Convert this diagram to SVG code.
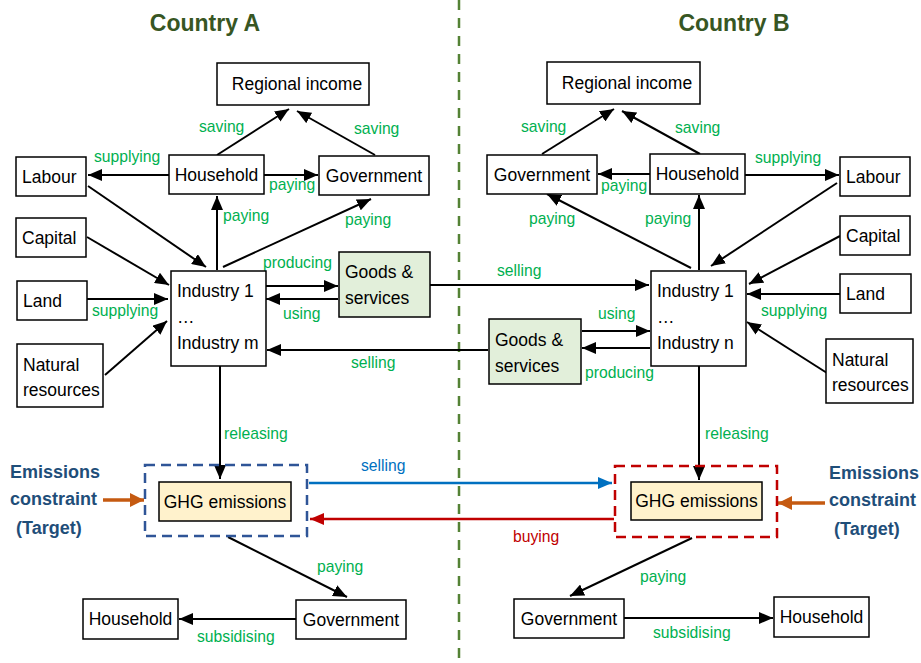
<svg xmlns="http://www.w3.org/2000/svg" width="921" height="663" viewBox="0 0 921 663">
<defs>
<style>
.box{fill:#fff;stroke:#000;stroke-width:1.5}
.goods{fill:#e2efda;stroke:#000;stroke-width:1.5}
.ghg{fill:#fff2cc;stroke:#000;stroke-width:1.5}
.t{font-family:"Liberation Sans",Arial,sans-serif;font-size:17.5px;fill:#000}
.tc{text-anchor:middle}
.lbl{font-family:"Liberation Sans",Arial,sans-serif;font-size:15.7px;fill:#00b050}
.title{font-family:"Liberation Sans",Arial,sans-serif;font-size:23px;font-weight:bold;fill:#375623;text-anchor:middle}
.ec{font-family:"Liberation Sans",Arial,sans-serif;font-size:18px;font-weight:bold;fill:#1f4e79}
.c{stroke:#000;stroke-width:2;fill:none;marker-end:url(#ah)}
</style>
<marker id="ah" markerUnits="userSpaceOnUse" markerWidth="14" markerHeight="12" refX="14" refY="6" orient="auto"><path d="M0,0 L14,6 L0,12 z" fill="#000"/></marker>
<marker id="ahb" markerUnits="userSpaceOnUse" markerWidth="14" markerHeight="12" refX="14" refY="6" orient="auto"><path d="M0,0 L14,6 L0,12 z" fill="#0070c0"/></marker>
<marker id="ahr" markerUnits="userSpaceOnUse" markerWidth="14" markerHeight="12" refX="14" refY="6" orient="auto"><path d="M0,0 L14,6 L0,12 z" fill="#c00000"/></marker>
<marker id="aho" markerUnits="userSpaceOnUse" markerWidth="14" markerHeight="14" refX="14" refY="7" orient="auto"><path d="M0,0 L14,7 L0,14 z" fill="#c55a11"/></marker>
</defs>
<rect width="921" height="663" fill="#fff"/>
<line x1="459" y1="0" x2="459" y2="663" stroke="#548235" stroke-width="2.5" stroke-dasharray="10,8"/>
<text class="title" x="205" y="31">Country A</text>
<text class="title" x="734" y="31">Country B</text>

<g id="connectors">
<!-- Country A -->
<line class="c" x1="217" y1="155" x2="289" y2="109"/>
<line class="c" x1="375" y1="155" x2="297" y2="111"/>
<line class="c" x1="169" y1="175" x2="88" y2="175"/>
<line class="c" x1="264" y1="175" x2="318" y2="175"/>
<line class="c" x1="217" y1="270" x2="217" y2="196"/>
<line class="c" x1="223" y1="267" x2="371" y2="199"/>
<line class="c" x1="88" y1="186" x2="206" y2="267"/>
<line class="c" x1="87" y1="237" x2="169" y2="285"/>
<line class="c" x1="87" y1="299" x2="168" y2="299"/>
<line class="c" x1="105" y1="375" x2="167" y2="321"/>
<line class="c" x1="266" y1="286" x2="338" y2="286"/>
<line class="c" x1="338" y1="299" x2="266" y2="299"/>
<line class="c" x1="430" y1="285" x2="649" y2="285"/>
<line class="c" x1="488" y1="350" x2="267" y2="350"/>
<line class="c" x1="220" y1="366" x2="220" y2="479"/>
<line class="c" x1="228" y1="537" x2="347" y2="597"/>
<line class="c" x1="296" y1="619" x2="179" y2="619"/>
<!-- trade -->
<line x1="309" y1="483" x2="612" y2="483" stroke="#0070c0" stroke-width="2.5" marker-end="url(#ahb)"/>
<line x1="614" y1="519" x2="310" y2="519" stroke="#c00000" stroke-width="2.5" marker-end="url(#ahr)"/>
<line x1="103" y1="500" x2="144" y2="500" stroke="#c55a11" stroke-width="3.5" marker-end="url(#aho)"/>
<line x1="825" y1="503" x2="778" y2="503" stroke="#c55a11" stroke-width="3.5" marker-end="url(#aho)"/>
<!-- Country B -->
<line class="c" x1="542" y1="154" x2="614" y2="109"/>
<line class="c" x1="700" y1="154" x2="622" y2="111"/>
<line class="c" x1="650" y1="174" x2="598" y2="174"/>
<line class="c" x1="745" y1="175" x2="839" y2="175"/>
<line class="c" x1="691" y1="268" x2="547" y2="194"/>
<line class="c" x1="699" y1="270" x2="699" y2="195"/>
<line class="c" x1="837" y1="183" x2="711" y2="266"/>
<line class="c" x1="840" y1="236" x2="749" y2="284"/>
<line class="c" x1="840" y1="294" x2="747" y2="294"/>
<line class="c" x1="827" y1="373" x2="747" y2="322"/>
<line class="c" x1="582" y1="331" x2="650" y2="331"/>
<line class="c" x1="650" y1="348" x2="582" y2="348"/>
<line class="c" x1="699" y1="366" x2="699" y2="480"/>
<line class="c" x1="692" y1="538" x2="570" y2="596"/>
<line class="c" x1="624" y1="618" x2="773" y2="618"/>
</g>

<g id="labels">
<text class="lbl" x="199" y="132">saving</text>
<text class="lbl" x="354" y="134">saving</text>
<text class="lbl" x="94" y="162">supplying</text>
<text class="lbl" x="269" y="190">paying</text>
<text class="lbl" x="223" y="221">paying</text>
<text class="lbl" x="345" y="225">paying</text>
<text class="lbl" x="263" y="268">producing</text>
<text class="lbl" x="92" y="316">supplying</text>
<text class="lbl" x="283" y="319">using</text>
<text class="lbl" x="351" y="368">selling</text>
<text class="lbl" x="497" y="276">selling</text>
<text class="lbl" x="224" y="439">releasing</text>
<text class="lbl" x="361" y="471" style="fill:#0070c0">selling</text>
<text class="lbl" x="317" y="572">paying</text>
<text class="lbl" x="197" y="642">subsidising</text>
<text class="lbl" x="521" y="132">saving</text>
<text class="lbl" x="675" y="133">saving</text>
<text class="lbl" x="755" y="163">supplying</text>
<text class="lbl" x="601" y="191">paying</text>
<text class="lbl" x="529" y="224">paying</text>
<text class="lbl" x="645" y="224">paying</text>
<text class="lbl" x="598" y="319">using</text>
<text class="lbl" x="761" y="316">supplying</text>
<text class="lbl" x="585" y="378">producing</text>
<text class="lbl" x="705" y="439">releasing</text>
<text class="lbl" x="513" y="542" style="fill:#c00000">buying</text>
<text class="lbl" x="640" y="582">paying</text>
<text class="lbl" x="653" y="638">subsidising</text>
</g>

<g id="a-regional-income"><rect class="box" x="217" y="63" width="152" height="42"/><text class="t tc" x="297" y="90">Regional income</text></g>
<g id="a-labour"><rect class="box" x="16" y="157" width="70" height="39"/><text class="t" x="22" y="183">Labour</text></g>
<g id="a-household"><rect class="box" x="169" y="155" width="95" height="39"/><text class="t tc" x="216.5" y="181">Household</text></g>
<g id="a-government"><rect class="box" x="319" y="156" width="110" height="39"/><text class="t tc" x="374" y="182">Government</text></g>
<g id="a-capital"><rect class="box" x="16" y="218" width="70" height="39"/><text class="t" x="22" y="244">Capital</text></g>
<g id="a-land"><rect class="box" x="17" y="281" width="70" height="39"/><text class="t" x="23" y="307">Land</text></g>
<g id="a-natural"><rect class="box" x="17" y="344" width="86" height="63"/><text class="t" x="23" y="371">Natural</text><text class="t" x="23" y="396">resources</text></g>
<g id="a-industry"><rect class="box" x="171" y="271" width="95" height="95"/><text class="t" x="177" y="297">Industry 1</text><text class="t" x="177" y="323">…</text><text class="t" x="177" y="349">Industry m</text></g>
<g id="a-goods"><rect class="goods" x="339" y="252" width="91" height="65"/><text class="t" x="345" y="278">Goods &amp;</text><text class="t" x="345" y="304">services</text></g>
<g id="a-ghg"><rect x="145" y="465" width="162" height="71" fill="none" stroke="#2f5597" stroke-width="2.5" stroke-dasharray="10,6"/><rect class="ghg" x="159" y="482" width="132" height="39"/><text class="t tc" x="225" y="508">GHG emissions</text></g>
<g id="a-household2"><rect class="box" x="83" y="599" width="95" height="40"/><text class="t tc" x="130.5" y="625">Household</text></g>
<g id="a-government2"><rect class="box" x="296" y="600" width="110" height="39"/><text class="t tc" x="351" y="626">Government</text></g>
<g id="a-constraint"><text class="ec" x="10" y="478">Emissions</text><text class="ec" x="10" y="505">constraint</text><text class="ec" x="16" y="534">(Target)</text></g>

<g id="b-regional-income"><rect class="box" x="547" y="62" width="153" height="42"/><text class="t tc" x="627" y="89">Regional income</text></g>
<g id="b-government"><rect class="box" x="487" y="155" width="110" height="39"/><text class="t tc" x="542" y="181">Government</text></g>
<g id="b-household"><rect class="box" x="650" y="154" width="95" height="40"/><text class="t tc" x="697.5" y="180">Household</text></g>
<g id="b-labour"><rect class="box" x="840" y="157" width="70" height="39"/><text class="t" x="846" y="183">Labour</text></g>
<g id="b-capital"><rect class="box" x="840" y="216" width="70" height="39"/><text class="t" x="846" y="242">Capital</text></g>
<g id="b-land"><rect class="box" x="840" y="274" width="71" height="39"/><text class="t" x="846" y="300">Land</text></g>
<g id="b-natural"><rect class="box" x="826" y="339" width="87" height="64"/><text class="t" x="832" y="366">Natural</text><text class="t" x="832" y="391">resources</text></g>
<g id="b-industry"><rect class="box" x="651" y="271" width="95" height="95"/><text class="t" x="657" y="297">Industry 1</text><text class="t" x="657" y="323">…</text><text class="t" x="657" y="349">Industry n</text></g>
<g id="b-goods"><rect class="goods" x="489" y="319" width="92" height="65"/><text class="t" x="495" y="346">Goods &amp;</text><text class="t" x="495" y="372">services</text></g>
<g id="b-ghg"><rect x="615" y="466" width="162" height="71" fill="none" stroke="#c00000" stroke-width="2.5" stroke-dasharray="10,6"/><rect class="ghg" x="631" y="482" width="131" height="38"/><text class="t tc" x="696.5" y="507">GHG emissions</text></g>
<g id="b-government2"><rect class="box" x="514" y="599" width="110" height="39"/><text class="t tc" x="569" y="625">Government</text></g>
<g id="b-household2"><rect class="box" x="774" y="597" width="95" height="40"/><text class="t tc" x="821.5" y="623">Household</text></g>
<g id="b-constraint"><text class="ec" x="829" y="479">Emissions</text><text class="ec" x="829" y="506">constraint</text><text class="ec" x="834" y="535">(Target)</text></g>
</svg>
